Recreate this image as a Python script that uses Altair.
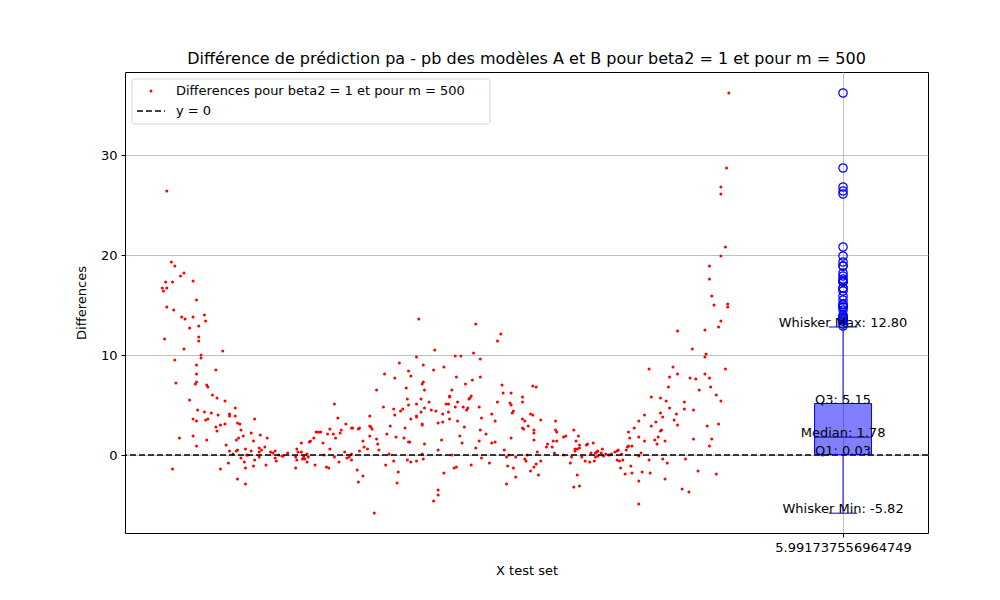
import altair as alt
import pandas as pd

# (x, y) pairs, left to right
seg1 = [(0.06,26.4),(0.10,19.3),(0.13,18.9),(0.18,17.9),(0.21,18.2),(0.29,17.4),(0.05,17.3),(0.11,17.3),
        (0.02,16.7),(0.03,16.4),(0.06,16.7),(0.32,15.5),(0.06,14.8),(0.12,14.5),(0.19,13.8),(0.22,13.6),
        (0.29,13.8),(0.39,14.0),(0.40,13.4),(0.26,12.7),(0.34,12.9),(0.34,11.8),(0.34,11.4),(0.04,11.6),
        (0.21,10.6),(0.55,10.4),(0.36,10.0),(0.36,9.7),(0.13,9.5),(0.32,9.0),(0.32,8.1),(0.49,8.5),
        (0.14,7.2),(0.31,7.1),(0.32,7.3),(0.41,7.0),(0.42,6.8),(0.46,6.0),(0.50,5.7),(0.26,5.5),
        (0.57,5.4),(0.33,4.5),(0.66,4.7),(0.39,4.3),(0.45,4.2),(0.61,4.1),(0.51,4.0),(0.29,3.6),
        (0.32,3.4),(0.40,3.5),(0.42,3.6),(0.61,3.9),(0.66,3.9),(0.70,3.1),(0.68,3.2),(0.57,3.1),
        (0.53,3.0),(0.49,2.8),(0.71,2.5),(0.50,2.4),(0.83,3.6),(0.80,2.2),(0.73,1.9),(0.69,1.7),
        (0.67,1.5),(0.88,2.0),(0.94,1.7),(0.82,1.4),(0.17,1.7),(0.29,1.9),(0.41,1.5),(0.32,0.9),
        (0.58,1.0),(0.75,0.6),(0.87,0.7),(0.92,0.8),(0.89,0.5),(0.61,0.4),(0.67,0.4),(0.68,0.5),
        (0.80,0.4),(0.87,0.3),(0.97,0.3),(1.01,0.4),(0.99,0.2),(0.64,0.1),(0.77,0.0),(1.04,0.0),
        (1.07,-0.1),(0.71,-0.3),(0.76,0.0),(0.83,-0.5),(0.87,-0.2),(0.74,-0.7),(1.01,-0.3),(1.02,-0.6),
        (0.60,-0.8),(0.82,-1.1),(0.93,-1.0),(0.75,-1.3),(0.11,-1.4),(0.53,-1.4),(0.68,-2.4),(0.75,-2.9)]
seg2 = [(1.08,-0.1),(1.12,0.2),(1.20,0.6),(1.21,0.3),(1.24,1.2),(1.24,0.3),(1.19,-0.2),(1.20,-0.5),
        (1.19,-1.3),(1.25,-0.4),(1.26,-0.2),(1.27,-0.4),(1.29,-0.7),(1.30,-0.2),(1.29,0.1),(1.31,1.3),
        (1.32,1.4),(1.35,1.7),(1.37,2.3),(1.39,2.3),(1.41,2.3),(1.43,1.2),(1.36,-1.0),(1.44,0.0),
        (1.46,-1.2),(1.48,-1.3),(1.47,2.1),(1.49,2.6),(1.49,0.6),(1.52,2.1),(1.53,5.1),(1.54,1.7),
        (1.53,-0.2),(1.56,3.7),(1.57,-0.7),(1.58,2.2),(1.59,2.5),(1.62,0.3),(1.63,3.1),(1.64,-0.3),
        (1.66,-0.2),(1.68,2.7),(1.68,-0.5),(1.69,2.7),(1.68,0.1),(1.73,-1.5),(1.74,-2.7),(1.74,2.6),
        (1.75,2.7),(1.78,1.4),(1.78,-2.1),(1.79,0.8),(1.75,0.4),(1.82,0.6),(1.84,3.9),(1.84,2.9),
        (1.85,2.8),(1.84,1.9),(1.86,2.6),(1.88,-5.8),(1.90,6.5),(1.90,1.6),(1.91,1.1),(1.92,0.5),
        (1.96,4.8),(1.97,8.1),(1.98,-1.0),(1.99,2.1),(2.01,0.1),(2.02,2.9),(2.05,-0.6),(2.06,7.7),
        (2.05,4.6),(2.06,4.0),(2.07,1.8),(2.08,-2.8),(2.09,-1.7),(2.10,9.2),(2.11,4.4),(2.13,4.6),
        (2.14,1.7),(2.15,2.7),(2.16,6.7),(2.17,5.6),(2.18,5.0),(2.18,8.4),(2.17,-0.5),(2.18,1.3)]
seg3 = [(2.27,13.6),(2.77,13.1),(2.99,12.1),(2.96,11.4),(2.41,10.5),(2.25,9.8),(2.59,9.9),(2.64,9.9),
        (2.75,10.2),(2.81,9.6),(2.31,9.0),(2.20,7.9),(2.40,8.5),(2.49,8.8),(2.60,7.8),(2.81,7.8),
        (2.74,7.5),(2.31,7.3),(2.30,7.1),(2.68,7.1),(3.00,7.0),(3.27,6.9),(2.32,6.5),(2.56,6.5),
        (3.01,6.2),(3.08,6.2),(2.54,5.9),(2.54,5.8),(2.73,5.9),(2.72,5.7),(2.71,5.6),(2.29,5.6),
        (3.18,5.8),(3.18,5.3),(2.96,5.3),(2.61,5.3),(2.36,5.3),(2.25,5.1),(2.51,5.1),(2.53,5.1),
        (3.07,5.2),(3.08,5.0),(2.32,4.7),(2.42,4.4),(2.38,4.5),(2.59,4.8),(2.66,4.8),(2.70,4.7),
        (2.69,4.5),(2.80,4.8),(3.10,4.4),(3.09,4.2),(2.53,4.3),(2.48,4.1),(2.29,4.3),(2.25,3.9),
        (2.25,3.8),(2.20,3.6),(2.44,3.2),(2.48,3.3),(2.54,3.6),(2.61,3.4),(2.82,3.7),(2.91,4.1),
        (2.94,3.4),(3.18,3.6),(3.20,3.4),(3.25,4.1),(3.27,4.0),(3.23,2.9),(3.18,2.7),(3.19,2.6),
        (2.30,3.1),(2.30,3.0),(2.67,2.8),(2.81,2.5),(3.28,2.5),(3.28,2.2),(2.86,2.1),(2.63,1.9),
        (3.08,1.7),(2.47,1.5),(2.80,1.4),(2.91,1.2),(2.94,1.3),(2.19,1.3),(2.65,1.2),(3.28,1.5),
        (2.32,1.1),(2.77,0.7),(2.44,0.5),(3.02,0.5),(2.30,0.1),(2.56,0.0),(3.04,-0.2),(3.06,0.0),
        (3.22,0.0),(3.12,-0.2),(2.31,-0.4),(2.82,-0.3),(2.20,-0.7),(2.25,-0.6),(3.20,-0.4),(3.21,-0.6),
        (2.73,-1.0),(2.89,-0.8),(3.05,-1.1),(3.10,-1.3),(3.28,-1.2),(2.60,-1.2),(2.58,-1.3),(3.25,-1.6),
        (2.49,-1.8),(3.12,-2.2),(3.04,-2.9),(2.44,-3.5),(2.44,-4.0),(2.40,-4.6)]
seg4 = [(3.30,6.8),(3.34,3.5),(3.47,3.4),(3.47,2.5),(3.48,2.3),(3.39,0.8),(3.40,1.1),(3.44,0.8),
        (3.45,1.4),(3.48,1.4),(3.46,0.2),(3.54,1.8),(3.56,1.9),(3.31,0.3),(3.30,-0.9),(3.32,-2.0),
        (3.34,-0.6),(3.54,0.0),(3.60,-0.8),(3.63,2.5),(3.65,1.4),(3.67,1.9),(3.68,1.0),(3.64,0.6),
        (3.66,0.6),(3.64,0.4),(3.68,0.7),(3.61,-0.2),(3.63,-3.2),(3.66,-2.0),(3.68,-3.1),(3.70,-0.2),
        (3.73,-0.6),(3.74,1.0),(3.75,1.1),(3.77,-0.7),(3.78,0.2),(3.80,1.2),(3.81,-0.6),(3.82,0.2),
        (3.82,-0.2),(3.83,0.3),(3.84,0.4),(3.84,-0.1),(3.88,0.6),(3.89,-0.1),(3.87,0.2),(3.91,0.1),
        (3.94,0.0),(3.96,0.1),(3.99,0.3),(4.01,0.4),(4.02,0.5),(4.01,-0.5),(4.03,-0.6),(4.04,-1.3),
        (4.05,0.1),(4.06,-0.5),(4.08,-1.9),(4.09,0.5),(4.10,0.8),(4.11,0.9),(4.11,2.3),(4.12,1.7),
        (4.14,0.9),(4.13,-1.1),(4.14,-1.8),(4.16,2.7),(4.20,3.4),(4.20,1.8),(4.20,-0.1),(4.20,-2.6),
        (4.20,-4.9)]
seg5 = [(4.99,36.2),(4.97,28.7),(4.92,26.8),(4.92,26.1),(4.96,20.8),(4.92,19.9),(4.82,18.9),(4.82,17.6),
        (4.84,15.9),(4.86,15.0),(4.98,15.1),(4.98,14.8),(4.92,13.4),(4.90,12.8),(4.78,12.5),(4.54,12.4),
        (4.67,10.6),(4.79,10.1),(4.78,9.8),(4.29,8.6),(4.50,8.8),(4.54,8.1),(4.47,7.8),(4.65,7.7),
        (4.70,7.6),(4.78,8.1),(4.82,7.7),(4.96,8.6),(4.46,6.8),(4.73,6.5),(4.83,6.8),(4.88,6.0),
        (4.92,5.4),(4.31,5.8),(4.39,5.7),(4.44,5.4),(4.60,5.3),(4.60,4.6),(4.68,4.5),(4.47,4.7),
        (4.53,4.1),(4.39,4.2),(4.41,3.8),(4.25,4.0),(4.35,3.3),(4.51,3.5),(4.54,3.0),(4.31,2.9),
        (4.90,3.1),(4.80,2.9),(4.40,2.5),(4.39,2.4),(4.37,1.8),(4.34,1.5),(4.25,1.4),(4.43,1.4),
        (4.36,1.1),(4.68,1.6),(4.84,1.6),(4.82,0.9),(4.22,0.2),(4.29,-0.5),(4.41,-0.4),(4.45,-0.8),
        (4.61,-0.4),(4.23,-1.7),(4.30,-1.8),(4.72,-1.6),(4.88,-1.9),(4.43,-2.4),(4.58,-3.4),(4.64,-3.7)]

box_pos = 5.991737556964749
q1, median, q3 = 0.03, 1.78, 5.15
whisker_min, whisker_max = -5.82, 12.80

pts = pd.DataFrame(seg1 + seg2 + seg3 + seg4 + seg5, columns=['x', 'y'])
pts['pos'] = box_pos

FONT = 'DejaVu Sans'
xscale = alt.Scale(domain=[-0.307, 6.737], nice=False, zero=False)
yscale = alt.Scale(domain=[-7.8, 38.3], nice=False, zero=False)

scatter = alt.Chart(pts).mark_circle(size=9, color='red', opacity=1).encode(
    x=alt.X('x:Q', scale=xscale, title='X test set',
            axis=alt.Axis(values=[box_pos], labelExpr="'5.991737556964749'")),
    y=alt.Y('y:Q', scale=yscale, title='Differences',
            axis=alt.Axis(values=[0, 10, 20, 30]))
)

zero = alt.Chart(pd.DataFrame({'y': [0]})).mark_rule(
    color='black', strokeDash=[6, 3], strokeWidth=1.5).encode(y='y:Q')

stats = pd.DataFrame({'pos': [box_pos], 'lo': [box_pos - 0.25], 'hi': [box_pos + 0.25],
                      'clo': [box_pos - 0.125], 'chi': [box_pos + 0.125],
                      'q1': [q1], 'q3': [q3], 'med': [median],
                      'wmin': [whisker_min], 'wmax': [whisker_max]})
base = alt.Chart(stats)
box = base.mark_rect(fill='#0000ff', fillOpacity=0.5, stroke='blue', strokeWidth=1).encode(
    x='lo:Q', x2='hi', y='q1:Q', y2='q3')
med = base.mark_rule(color='blue', strokeWidth=1).encode(x='lo:Q', x2='hi', y='med:Q')
wlow = base.mark_rule(color='blue').encode(x='pos:Q', y='wmin:Q', y2='q1')
whigh = base.mark_rule(color='blue').encode(x='pos:Q', y='q3:Q', y2='wmax')
cap_lo = base.mark_rule(color='blue').encode(x='clo:Q', x2='chi', y='wmin:Q')
cap_hi = base.mark_rule(color='blue').encode(x='clo:Q', x2='chi', y='wmax:Q')

fliers = alt.Chart(pts).transform_filter(
    (alt.datum.y > whisker_max) | (alt.datum.y < whisker_min)
).mark_point(shape='circle', size=70, filled=False, color='blue', strokeWidth=1.2, opacity=1).encode(
    x='pos:Q', y='y:Q')

labels = pd.DataFrame({
    'txt': ['Whisker Max: %.2f' % whisker_max, 'Q3: %.2f' % q3, 'Median: %.2f' % median,
            'Q1: %.2f' % q1, 'Whisker Min: %.2f' % whisker_min],
    'v': [whisker_max, q3, median, q1, whisker_min], 'pos': [box_pos] * 5})
texts = alt.Chart(labels).mark_text(font=FONT, fontSize=13, baseline='bottom', align='center',
                                    color='black', dy=3).encode(x='pos:Q', y='v:Q', text='txt:N')

# legend box (upper left)
leg = alt.Chart(pd.DataFrame({'a': [1]}))
leg_box = leg.mark_rect(fill='white', opacity=0.8, stroke='#cccccc', cornerRadius=3).encode(
    x=alt.value(7), x2=alt.value(365), y=alt.value(7), y2=alt.value(52))
leg_dot = leg.mark_circle(size=9, color='red', opacity=1).encode(x=alt.value(26), y=alt.value(19))
leg_line = leg.mark_rule(color='black', strokeDash=[6, 3], strokeWidth=1.5).encode(
    x=alt.value(12), x2=alt.value(40), y=alt.value(39))
leg_text = alt.Chart(pd.DataFrame({'t': ['Differences pour beta2 = 1 et pour m = 500', 'y = 0'],
                                   'yy': [19, 39]})).mark_text(
    font=FONT, fontSize=13, align='left', baseline='middle', color='black').encode(
    x=alt.value(51), y=alt.Y('yy:Q', scale=None), text='t:N')

chart = alt.layer(scatter, zero, box, med, wlow, whigh, cap_lo, cap_hi, fliers, texts,
                  leg_box, leg_dot, leg_line, leg_text).properties(
    width=803, height=461,
    autosize=alt.AutoSizeParams(type='none'),
    padding={'left': 117, 'top': 64, 'right': 60, 'bottom': 60},
    title=alt.TitleParams(
        'Différence de prédiction pa - pb des modèles A et B pour beta2 = 1 et pour m = 500',
        font=FONT, fontSize=16, fontWeight='normal', anchor='middle', offset=5)
).configure_view(stroke='black', strokeWidth=1).configure_axis(
    labelFont=FONT, titleFont=FONT, labelFontSize=13, titleFontSize=13,
    titleFontWeight='normal', labelColor='black', titleColor='black',
    domain=False, tickColor='black', tickSize=4, labelPadding=4,
    gridColor='#b0b0b0', gridWidth=0.8
).configure_axisX(titlePadding=10).configure_axisY(titlePadding=12)

chart.save("out.html", embed_options={"renderer": "svg", "actions": False})
